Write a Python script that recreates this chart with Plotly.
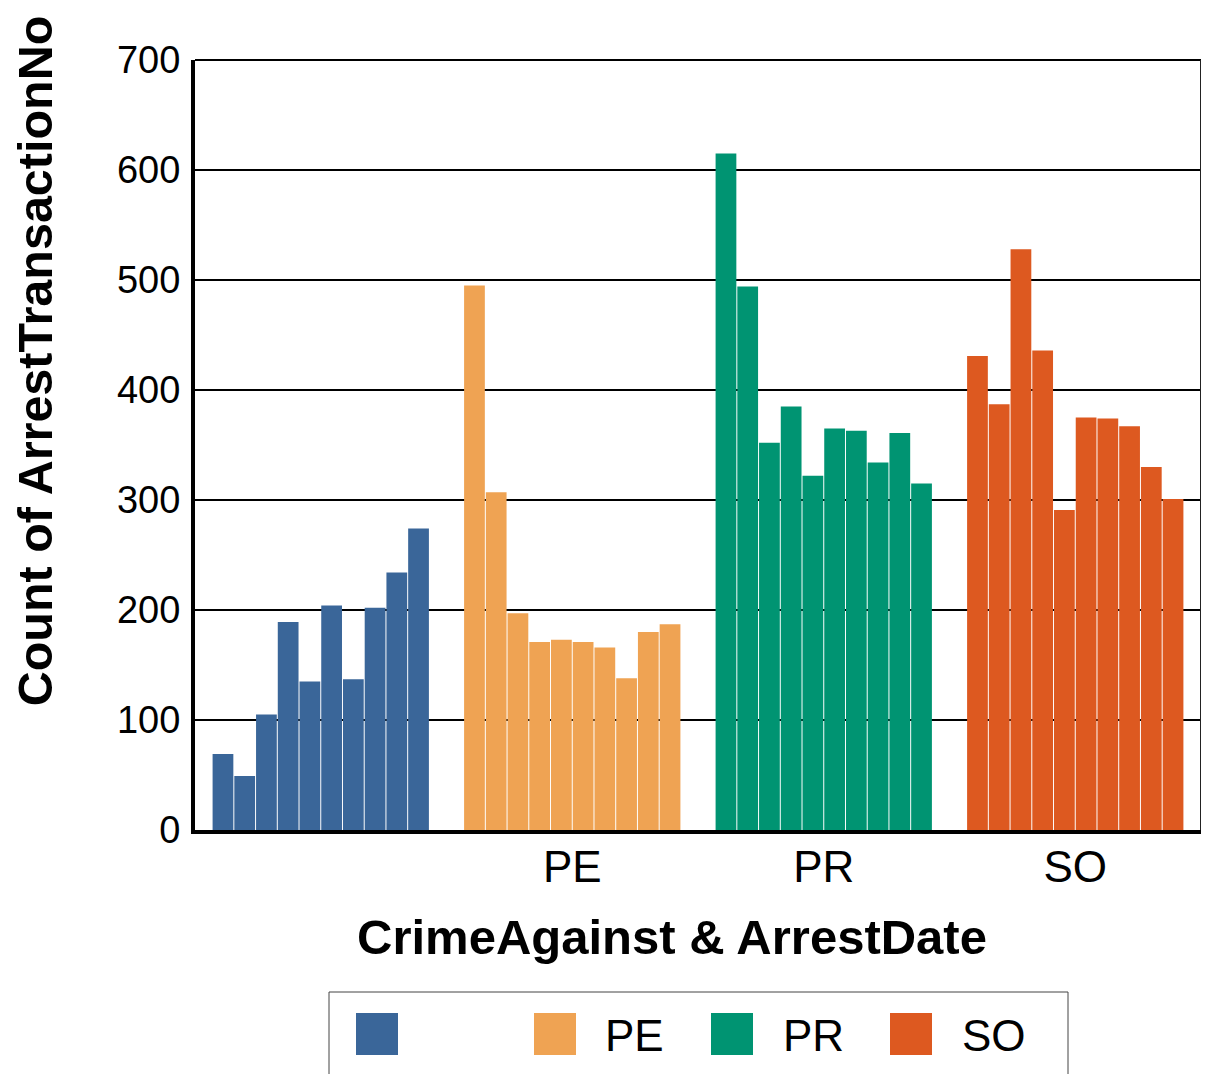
import plotly.graph_objects as go

# ---------------- data ----------------
groups = ["", "PE", "PR", "SO"]
colors = ["#3A6699", "#EFA353", "#009472", "#DD5920"]
blank_vals = [69, 49, 105, 189, 135, 204, 137, 202, 234, 274]
pe_vals = [495, 307, 197, 171, 173, 171, 166, 138, 180, 187]
pr_vals = [615, 494, 352, 385, 322, 365, 363, 334, 361, 315]
so_vals = [431, 387, 528, 436, 291, 375, 374, 367, 330, 301]
series = [blank_vals, pe_vals, pr_vals, so_vals]
y_ticks = [0, 100, 200, 300, 400, 500, 600, 700]

# page body has an 8px margin; lay out in screen pixels and shift
OFF = 8
W, H = 1209 - OFF, 1074 - OFF
L, R, T, B = 195 - OFF, 8, 60 - OFF, 1074 - 830
PW, PH = W - L - R, H - T - B

def px_x(x):
    return (x - OFF - L) / PW

def px_y(y):
    return (H - B - (y - OFF)) / PH

FONT = "Liberation Sans"
bargap = 0.136
n = len(blank_vals)
w = (1 - bargap) / n

fig = go.Figure()
for g, (name, vals, col) in enumerate(zip(groups, series, colors)):
    xs = [g - (1 - bargap) / 2 + w * (i + 0.5) for i in range(len(vals))]
    fig.add_trace(go.Bar(
        x=xs, y=vals, width=w * 0.955, name=name,
        marker=dict(color=col, line=dict(width=0)),
        showlegend=False,
    ))
# empty helper trace so the title-carrying axis gets drawn
fig.add_trace(go.Scatter(x=[], y=[], xaxis="x", yaxis="y2", showlegend=False,
                         hoverinfo="skip"))

fig.update_layout(
    width=W, height=H,
    margin=dict(l=L, r=R, t=T, b=B),
    paper_bgcolor="white", plot_bgcolor="rgba(0,0,0,0)",
    font=dict(family=FONT, color="black"),
    barmode="overlay",
)
fig.update_xaxes(
    range=[-0.5, len(groups) - 0.5],
    tickvals=list(range(len(groups))), ticktext=groups,
    tickfont=dict(size=44, family=FONT, color="black"),
    showgrid=False, zeroline=False,
    showline=True, linecolor="black", linewidth=4,
    ticks="", ticklabelstandoff=-5,
)
fig.update_layout(yaxis=dict(
    range=[0, 700], tickvals=y_ticks,
    tickfont=dict(size=38, family=FONT, color="black"),
    showgrid=True, gridcolor="black", gridwidth=2,
    zeroline=False,
    showline=True, linecolor="black", linewidth=4,
    ticks="", ticklabelstandoff=3,
))

# y-axis title carried by a bare helper axis so it sits where the reference has it
title_center = px_y(361)
d0 = 2 * title_center - 1
fig.update_layout(yaxis2=dict(
    domain=[d0, 1.0], anchor="free", position=0, range=[0, 1],
    showticklabels=False, showgrid=False, zeroline=False, showline=False, ticks="",
    title=dict(text="<b>Count of ArrestTransactionNo</b>", standoff=137,
               font=dict(size=48.5, family=FONT, color="black")),
))

shapes = []
# top and right frame
shapes.append(dict(type="line", xref="paper", yref="paper", x0=0, x1=1, y0=1, y1=1,
                   line=dict(color="black", width=2), layer="above"))
shapes.append(dict(type="line", xref="paper", yref="paper", x0=1, x1=1, y0=0, y1=1,
                   line=dict(color="#222222", width=2), layer="above"))

annotations = []
annotations.append(dict(text="<b>CrimeAgainst & ArrestDate</b>", xref="paper", yref="paper",
                        x=px_x(671.5), y=px_y(937), xanchor="center", yanchor="middle",
                        showarrow=False, font=dict(size=49, family=FONT, color="black")))

# legend box
shapes.append(dict(type="rect", xref="paper", yref="paper",
                   x0=px_x(329), x1=px_x(1068), y0=px_y(992), y1=px_y(1090),
                   line=dict(color="#444444", width=1), fillcolor="rgba(0,0,0,0)", layer="above"))
sq_left = [356, 534, 711, 890]
txt_left = [425, 603, 781, 960]
for name, col, sx, tx in zip(groups, colors, sq_left, txt_left):
    shapes.append(dict(type="rect", xref="paper", yref="paper",
                       x0=px_x(sx), x1=px_x(sx + 42), y0=px_y(1013), y1=px_y(1055),
                       line=dict(width=0), fillcolor=col, layer="above"))
    if name:
        annotations.append(dict(text=name, xref="paper", yref="paper",
                                x=px_x(tx), y=px_y(1035), xanchor="left", yanchor="middle",
                                showarrow=False, font=dict(size=44, family=FONT, color="black")))

fig.update_layout(shapes=shapes, annotations=annotations)
fig.write_html("out.html")
